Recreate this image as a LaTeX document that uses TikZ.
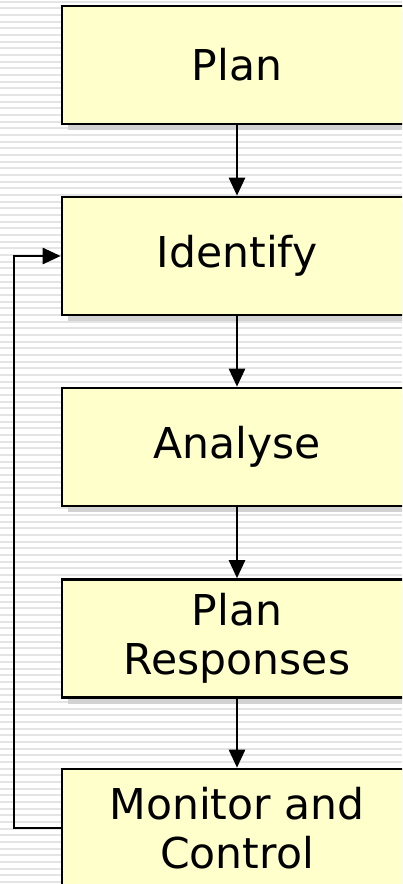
\documentclass[tikz,border=0pt]{standalone}
\usepackage{fontspec}
\setmainfont{DejaVu Sans}
\usetikzlibrary{arrows.meta,shadows}
\definecolor{boxfill}{HTML}{FFFFCC}
\definecolor{stripe}{HTML}{E4E4E4}
\definecolor{shade}{HTML}{D2D2D2}
\tikzset{
  stage/.style={draw=black, line width=2.6pt, fill=boxfill,
    minimum width=350pt, minimum height=118pt, inner sep=0pt,
    align=center, font=\fontsize{42.5}{49}\selectfont,
    general shadow={fill=shade, shadow xshift=6pt, shadow yshift=-6pt}},
  flow/.style={line width=2.6pt, -{Triangle[width=16pt,length=18pt]}}
}
\begin{document}
\begin{tikzpicture}[x=1pt, y=-1pt]
  \useasboundingbox (0,0) rectangle (402,884);
  \clip (0,0) rectangle (402,884);
  % striped page background
  \fill[white] (0,0) rectangle (402,884);
  \foreach \k in {0,...,133} {
    \fill[stripe] (0,{0.5+6.67*\k}) rectangle (402,{2.5+6.67*\k});
  }
  % process stages
  \node[stage] (plan)      at (237,65)    {Plan};
  \node[stage] (identify)  at (237,256)   {Identify};
  \node[stage] (analyse)   at (237,447)   {Analyse};
  \node[stage] (responses) at (237,638.5) {Plan\\Responses};
  \node[stage] (monitor)   at (237,828)   {Monitor and\\Control};
  % main flow
  \draw[flow] (plan.south) -- (identify.north);
  \draw[flow] (identify.south) -- (analyse.north);
  \draw[flow] (analyse.south) -- (responses.north);
  \draw[flow] (responses.south) -- (monitor.north);
  % feedback loop
  \coordinate (loop) at (14,828);
  \draw[flow] (monitor.west) -- (loop) |- (identify.west);
\end{tikzpicture}
\end{document}
